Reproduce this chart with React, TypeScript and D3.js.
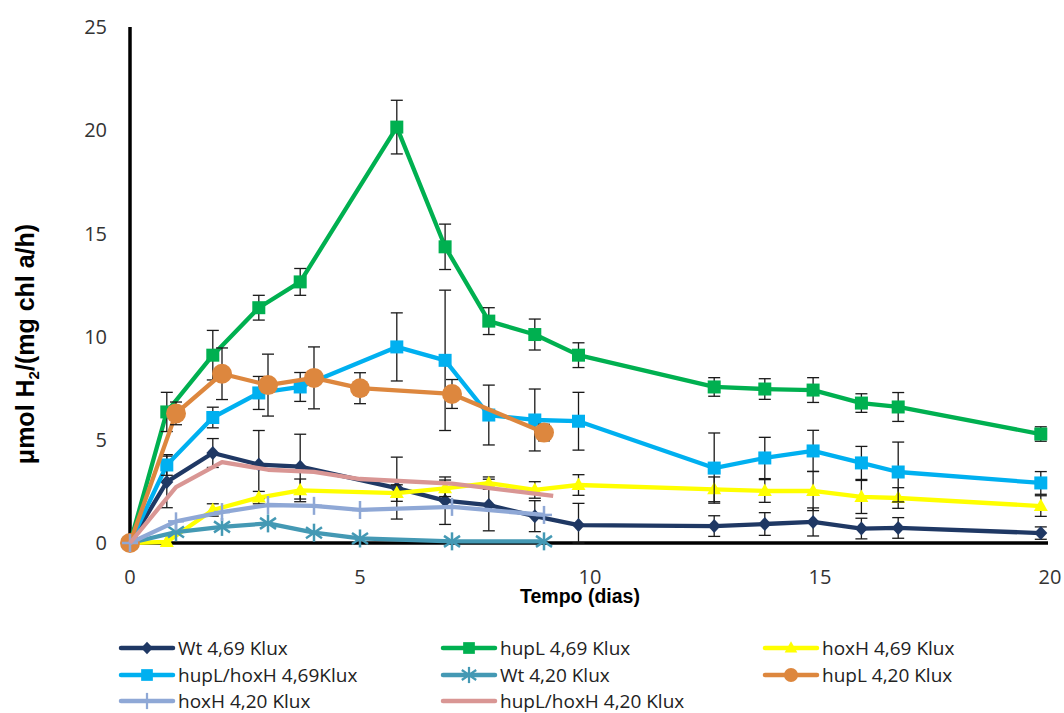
import React from "react";
import * as d3 from "d3";

// days of sampling
const days469 = [0, 0.8, 1.8, 2.8, 3.7, 5.8, 6.85, 7.8, 8.8, 9.75, 12.7, 13.8, 14.85, 15.9, 16.7, 19.8];
const days420 = [0, 1, 2, 3, 4, 5, 7, 9];
const daysPink420 = [0, 1, 2, 3, 4, 5, 7, 9.2];

// 4,69 Klux
const wt469 = [0, 2.96, 4.36, 3.8, 3.7, 2.66, 2.05, 1.84, 1.3, 0.87, 0.82, 0.92, 1.02, 0.7, 0.73, 0.48];
const wt469Err = [0, 1.25, 0.7, 1.65, 1.57, 1.5, 1.15, 1.25, 0.75, 1.05, 0.5, 0.55, 0.68, 0.5, 0.5, 0.3];
const hupL469 = [0, 6.35, 9.1, 11.4, 12.65, 20.15, 14.35, 10.75, 10.1, 9.1, 7.56, 7.46, 7.41, 6.78, 6.59, 5.28];
const hupL469Err = [0, 0.95, 1.2, 0.6, 0.65, 1.3, 1.1, 0.65, 0.75, 0.6, 0.45, 0.5, 0.6, 0.45, 0.7, 0.35];
const hoxH469 = [0, 0.05, 1.6, 2.2, 2.55, 2.42, 2.65, 2.9, 2.57, 2.81, 2.6, 2.52, 2.52, 2.23, 2.18, 1.79];
const hoxH469Err = [0, 0, 0.3, 0.3, 0.55, 0.4, 0.4, 0.3, 0.4, 0.5, 0.6, 0.55, 0.95, 0.8, 0.5, 0.5];
const hupLhoxH469 = [0, 3.78, 6.08, 7.27, 7.56, 9.5, 8.85, 6.2, 5.96, 5.9, 3.63, 4.12, 4.46, 3.88, 3.44, 2.91];
const hupLhoxH469Err = [0, 0.5, 0.5, 0.8, 0.7, 1.65, 3.4, 1.45, 1.5, 1.4, 1.7, 1.0, 1.0, 0.8, 1.45, 0.55];

// 4,20 Klux
const wt420 = [0, 0.53, 0.78, 0.95, 0.5, 0.22, 0.08, 0.08];
const hupL420 = [0, 6.28, 8.2, 7.65, 8.0, 7.5, 7.22, 5.35];
const hupL420Err = [0, 0.55, 1.25, 1.5, 1.5, 0.75, 0.7, 0.4];
const hoxH420 = [0, 1.05, 1.5, 1.84, 1.8, 1.6, 1.75, 1.36];
const hupLhoxH420 = [0, 2.71, 3.92, 3.55, 3.45, 3.1, 2.88, 2.28];

const xTicks = [0, 5, 10, 15, 20];
const yTicks = [0, 5, 10, 15, 20, 25];

type Marker = "diamond" | "square" | "triangle" | "circle" | "star" | "plus" | "none";

const series: { name: string; days: number[]; values: number[]; err: number[] | null; color: string; marker: Marker }[] = [
  { name: "Wt 4,69 Klux", days: days469, values: wt469, err: wt469Err, color: "#1F3864", marker: "diamond" },
  { name: "hupL 4,69 Klux", days: days469, values: hupL469, err: hupL469Err, color: "#00B050", marker: "square" },
  { name: "hoxH 4,69 Klux", days: days469, values: hoxH469, err: hoxH469Err, color: "#FFFF00", marker: "triangle" },
  { name: "hupL/hoxH 4,69Klux", days: days469, values: hupLhoxH469, err: hupLhoxH469Err, color: "#00B0F0", marker: "square" },
  { name: "Wt 4,20 Klux", days: days420, values: wt420, err: null, color: "#4499B4", marker: "star" },
  { name: "hupL 4,20 Klux", days: days420, values: hupL420, err: hupL420Err, color: "#DD873E", marker: "circle" },
  { name: "hoxH 4,20 Klux", days: days420, values: hoxH420, err: null, color: "#8FA8D6", marker: "plus" },
  { name: "hupL/hoxH 4,20 Klux", days: daysPink420, values: hupLhoxH420, err: null, color: "#D99694", marker: "none" },
];

const width = 1064;
const height = 713;
const x = d3.scaleLinear().domain([0, 20]).range([130, 1050]);
const y = d3.scaleLinear().domain([0, 25]).range([543, 27]);

const MarkerShape = ({ type, cx, cy, color, s = 1 }: { type: Marker; cx: number; cy: number; color: string; s?: number }) => {
  if (type === "diamond")
    return <path d={`M${cx},${cy - 7 * s}L${cx + 6.5 * s},${cy}L${cx},${cy + 7 * s}L${cx - 6.5 * s},${cy}Z`} fill={color} />;
  if (type === "square") return <rect x={cx - 6.5 * s} y={cy - 6.5 * s} width={13 * s} height={13 * s} fill={color} />;
  if (type === "triangle")
    return <path d={`M${cx},${cy - 7.5 * s}L${cx + 7 * s},${cy + 5 * s}L${cx - 7 * s},${cy + 5 * s}Z`} fill={color} />;
  if (type === "circle") return <circle cx={cx} cy={cy} r={10 * s} fill={color} />;
  if (type === "star")
    return (
      <g stroke={color} strokeWidth={2.5 * s}>
        <line x1={cx} y1={cy - 9 * s} x2={cx} y2={cy + 9 * s} />
        <line x1={cx - 8 * s} y1={cy - 5.5 * s} x2={cx + 8 * s} y2={cy + 5.5 * s} />
        <line x1={cx - 8 * s} y1={cy + 5.5 * s} x2={cx + 8 * s} y2={cy - 5.5 * s} />
      </g>
    );
  if (type === "plus")
    return (
      <g stroke={color} strokeWidth={2.5 * s}>
        <line x1={cx} y1={cy - 9 * s} x2={cx} y2={cy + 9 * s} />
        <line x1={cx - 8 * s} y1={cy} x2={cx + 8 * s} y2={cy} />
      </g>
    );
  return null;
};

const legendCols = [121, 443, 765];
const legendRows = [648, 675, 701];

const App = () => {
  return (
    <div style={{ position: "absolute", left: 0, top: 0 }}>
      <svg width={width} height={height} style={{ display: "block", background: "#fff" }}>
        {/* axes */}
        <line x1={x(0)} y1={y(25)} x2={x(0)} y2={y(0)} stroke="#000" strokeWidth={3.5} />
        <line x1={x(0) - 1.75} y1={y(0)} x2={x(20) - 2} y2={y(0)} stroke="#000" strokeWidth={3.5} />

        {yTicks.map((t) => (
          <text key={t} x={107} y={y(t)} dy="0.36em" textAnchor="end" fontFamily="Open Sans" fontSize={20} fill="#333">
            {t}
          </text>
        ))}
        {xTicks.map((t) => (
          <text key={t} x={x(t)} y={584} textAnchor="middle" fontFamily="Open Sans" fontSize={20} fill="#333">
            {t}
          </text>
        ))}

        <text x={580} y={603} textAnchor="middle" fontFamily="Liberation Sans" fontWeight="bold" fontSize={19.5} fill="#000">
          Tempo (dias)
        </text>
        <text
          transform="translate(34,344) rotate(-90)"
          textAnchor="middle"
          fontFamily="Liberation Sans"
          fontWeight="bold"
          fontSize={25}
          fill="#000"
        >
          <tspan>μmol H</tspan>
          <tspan fontSize={15} dy={5}>2</tspan>
          <tspan dy={-5}>/(mg chl a/h)</tspan>
        </text>

        {/* series */}
        {series.map((s) => {
          const path = d3
            .line<number>()
            .x((_, i) => x(s.days[i]))
            .y((v) => y(v))(s.values);
          return (
            <g key={s.name}>
              <path d={path || ""} fill="none" stroke={s.color} strokeWidth={4.3} strokeLinejoin="round" />
              {s.err &&
                s.values.map((v, i) => {
                  const e = s.err![i];
                  if (!e) return null;
                  const cx = x(s.days[i]);
                  const top = y(v + e);
                  const bot = y(Math.max(0, v - e));
                  return (
                    <g key={i} stroke="#1a1a1a" strokeWidth={1.3}>
                      <line x1={cx} y1={top} x2={cx} y2={bot} />
                      <line x1={cx - 6} y1={top} x2={cx + 6} y2={top} />
                      <line x1={cx - 6} y1={bot} x2={cx + 6} y2={bot} />
                    </g>
                  );
                })}
              {s.values.map((v, i) => (
                <MarkerShape key={i} type={s.marker} cx={x(s.days[i])} cy={y(v)} color={s.color} />
              ))}
            </g>
          );
        })}

        {/* legend */}
        {series.map((s, i) => {
          const lx = legendCols[i % 3];
          const ly = legendRows[Math.floor(i / 3)];
          return (
            <g key={s.name}>
              <line x1={lx} y1={ly} x2={lx + 52} y2={ly} stroke={s.color} strokeWidth={4.5} strokeLinecap="round" />
              <MarkerShape type={s.marker} cx={lx + 26} cy={ly} color={s.color} s={s.marker === "circle" ? 0.7 : 0.9} />
              <text x={lx + 57} y={ly + 7} fontFamily="Open Sans" fontSize={19} fill="#222">
                {s.name}
              </text>
            </g>
          );
        })}
      </svg>
    </div>
  );
};

export default App;
